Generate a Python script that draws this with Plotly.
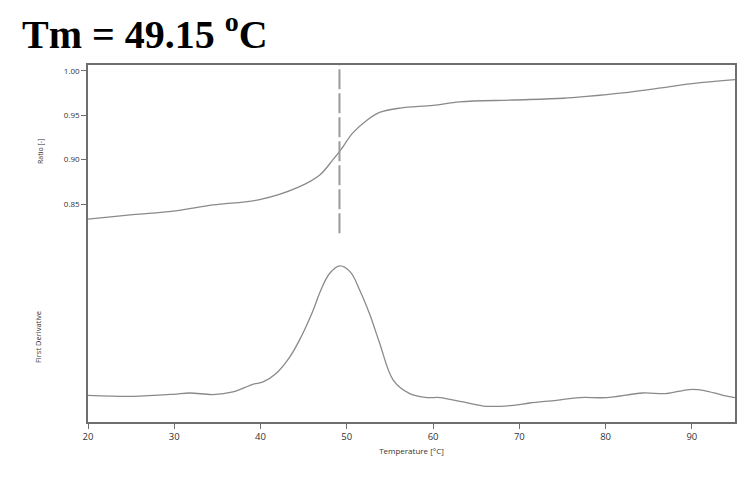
import plotly.graph_objects as go

# melt curve
temp_ratio = [20, 25.2, 29.9, 34.5, 39.9, 44.4, 46.9, 48.4, 49.3, 50.7, 52.3, 53.8,
              56.2, 60.0, 63.1, 69.3, 75.1, 77.8, 82.0, 86.7, 90.5, 95]
ratio = [0.833, 0.838, 0.842, 0.849, 0.855, 0.869, 0.883, 0.900, 0.911, 0.930, 0.944, 0.953,
         0.958, 0.961, 0.965, 0.967, 0.969, 0.971, 0.975, 0.981, 0.986, 0.990]

temp_deriv = [20, 25.2, 29.9, 31.8, 34.5, 36.8, 39.1, 40.3, 41.8, 43.4, 44.7, 46.1, 46.9,
              48.0, 49.2, 50.4, 51.5, 52.7, 53.8, 55.4, 57.3, 59.3, 60.8, 63.5, 66.2,
              69.3, 71.2, 74.3, 77.0, 80.1, 84.3, 87.0, 89.7, 91.3, 93.6, 95]
deriv = [0.0267, 0.0257, 0.0277, 0.0290, 0.0274, 0.0300, 0.0377, 0.0400, 0.0484, 0.0650,
         0.0850, 0.1117, 0.1300, 0.1484, 0.1560, 0.1500, 0.1317, 0.1067, 0.0790, 0.0417,
         0.0284, 0.0244, 0.0244, 0.0200, 0.0157, 0.0167, 0.0190, 0.0217, 0.0244, 0.0244,
         0.0290, 0.0284, 0.0324, 0.0317, 0.0267, 0.0244]

tm = 49.15
x_ticks = [20, 30, 40, 50, 60, 70, 80, 90]
ratio_ticks = [0.85, 0.90, 0.95, 1.00]

gray = "#8a8a8a"
axis_col = "#6e6e6e"
txt_col = "#333333"

# page has an 8px body margin, so the margins are pulled in by 8px
ml, mr, mt, mb = 80, 28, 57, 65
W, H = 755, 479

fig = go.Figure()
fig.add_trace(go.Scatter(x=temp_ratio, y=ratio, mode="lines", line=dict(color=gray, width=1.3, shape="spline"),
                         yaxis="y", showlegend=False))
fig.add_trace(go.Scatter(x=temp_deriv, y=deriv, mode="lines", line=dict(color=gray, width=1.3, shape="spline"),
                         yaxis="y2", showlegend=False))

fig.add_shape(type="line", x0=tm, x1=tm, xref="x", y0=0.529, y1=1, yref="paper",
              line=dict(color="#9a9a9a", width=2, dash="20px,4px"))

fig.update_layout(
    width=W, height=H,
    margin=dict(l=ml, r=mr, t=mt, b=mb),
    plot_bgcolor="white", paper_bgcolor="white",
    title=dict(text="Tm = 49.15 <sup>o</sup>C", x=14 / W, xanchor="left", y=1 - 26 / H, yanchor="middle",
               xref="container", yref="container",
               font=dict(family="Liberation Serif", size=40, color="black", weight="bold")),
    xaxis=dict(range=[20, 95], tickvals=x_ticks, showline=True, mirror=True, linecolor=axis_col, linewidth=1.5,
               ticks="outside", ticklen=5, tickcolor=axis_col, showgrid=False, zeroline=False,
               tickfont=dict(family="Open Sans", size=9.5, color=txt_col),
               title=dict(text="Temperature [°C]", font=dict(family="Open Sans", size=8, color=txt_col), standoff=6)),
    yaxis=dict(range=[0.6048, 1.0064], tickvals=ratio_ticks, ticktext=["0.85", "0.90", "0.95", "1.00"],
               showline=True, mirror=True, linecolor=axis_col, linewidth=1.5, ticks="outside", ticklen=5,
               tickcolor=axis_col, showgrid=False, zeroline=False,
               tickfont=dict(family="Open Sans", size=8, color=txt_col)),
    yaxis2=dict(range=[0, 0.3567], overlaying="y", showticklabels=False, showgrid=False, zeroline=False,
                showline=False, ticks=""),
)

pw, ph = W - ml - mr, H - mt - mb
for label, px_x, px_y, size in [("Ratio [-]", 32, 144, 7), ("First Derivative", 30, 329, 7.5)]:
    fig.add_annotation(text=label, x=(px_x - ml) / pw, y=(H - mb - px_y) / ph, xref="paper", yref="paper",
                       xanchor="center", yanchor="middle", showarrow=False, textangle=-90,
                       font=dict(family="Open Sans", size=size, color=txt_col))

fig.write_html("out.html")
